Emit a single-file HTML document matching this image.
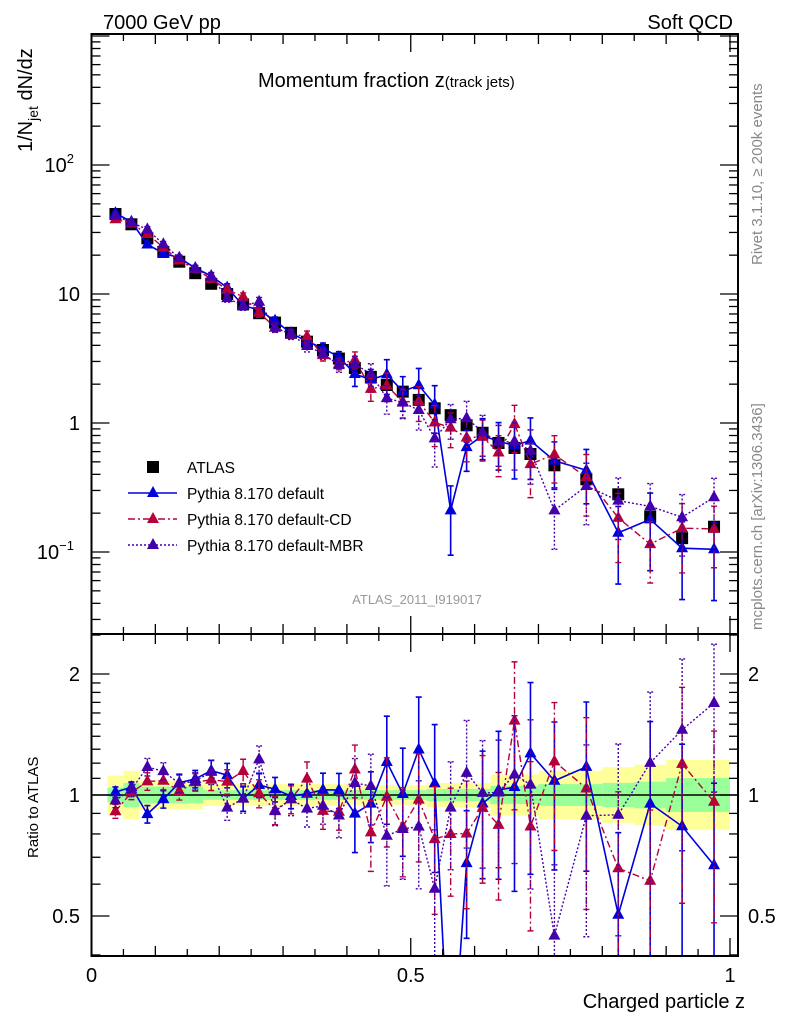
<!DOCTYPE html>
<html><head><meta charset="utf-8">
<style>
html,body{margin:0;padding:0;background:#fff;width:786px;height:1024px;overflow:hidden;}
svg{display:block;font-family:"Liberation Sans",sans-serif;}
</style></head>
<body>
<svg id="chart" width="786" height="1024" viewBox="0 0 786 1024" xmlns="http://www.w3.org/2000/svg">
<rect x="0" y="0" width="786" height="1024" fill="#fff"/>
<g id="ratioBands"></g>
<g id="marks"></g>
<g id="axes"></g>
<text x="103" y="29" font-size="20">7000 GeV pp</text>
<text x="733" y="29" font-size="20" text-anchor="end">Soft QCD</text>
<text x="258" y="87" font-size="20">Momentum fraction z<tspan font-size="15">(track jets)</tspan></text>
<text transform="translate(762,265) rotate(-90)" font-size="15" fill="#888">Rivet 3.1.10, ≥ 200k events</text>
<text transform="translate(762,630) rotate(-90)" font-size="15" fill="#888">mcplots.cern.ch [arXiv:1306.3436]</text>
<text x="417" y="604" font-size="13" fill="#999" text-anchor="middle">ATLAS_2011_I919017</text>
<text transform="translate(32,152) rotate(-90)" font-size="20">1/N<tspan font-size="14" dy="6">jet</tspan><tspan dy="-6"> dN/dz</tspan></text>
<text transform="translate(38,858) rotate(-90)" font-size="15">Ratio to ATLAS</text>
<text x="745" y="1008" font-size="20" text-anchor="end">Charged particle z</text>
<g id="legend"></g>
</svg>
<script>
const zCenters=[0.0375,0.0625,0.0875,0.1125,0.1375,0.1625,0.1875,0.2125,0.2375,0.2625,0.2875,0.3125,0.3375,0.3625,0.3875,0.4125,0.4375,0.4625,0.4875,0.5125,0.5375,0.5625,0.5875,0.6125,0.6375,0.6625,0.6875,0.725,0.775,0.825,0.875,0.925,0.975];
const atlasVals=[41.7,34.7,27,21.2,17.8,14.5,12,10,8.3,7.1,6.0,5.0,4.27,3.68,3.16,2.67,2.28,1.97,1.75,1.51,1.30,1.15,0.96,0.84,0.70,0.64,0.575,0.47,0.366,0.28,0.188,0.128,0.157];
const defaultVals=[42.4,36.3,24.2,20.7,19.1,15.9,13.8,11.2,8.13,7.52,6.20,4.97,4.30,3.79,3.25,2.40,2.17,2.38,1.76,1.96,1.39,0.21,0.65,0.80,0.72,0.67,0.73,0.51,0.43,0.141,0.179,0.107,0.105];
const cdVals=[38.0,35.2,29.2,23.0,18.2,15.6,13.1,10.8,9.52,7.17,5.50,4.88,4.69,3.36,2.87,3.09,1.84,1.95,1.46,1.47,1.01,0.92,0.77,0.78,0.59,0.98,0.48,0.57,0.38,0.184,0.115,0.153,0.151];
const mbrVals=[40.4,35.8,31.7,24.3,19.0,15.7,13.7,9.30,8.13,8.71,5.47,4.88,3.95,3.46,2.81,2.86,2.40,1.56,1.44,1.26,0.76,1.07,1.09,0.85,0.71,0.72,0.61,0.21,0.325,0.25,0.226,0.186,0.266];
const defaultErr=[0.03,0.03,0.05,0.05,0.05,0.05,0.06,0.07,0.07,0.07,0.07,0.07,0.08,0.1,0.1,0.2,0.2,0.3,0.3,0.35,0.4,0.55,0.35,0.35,0.4,0.45,0.5,0.4,0.45,0.6,0.6,0.6,0.6];
const cdErr=[0.04,0.04,0.05,0.05,0.05,0.05,0.06,0.07,0.07,0.08,0.08,0.08,0.1,0.1,0.1,0.15,0.2,0.25,0.25,0.3,0.35,0.3,0.35,0.35,0.35,0.4,0.45,0.4,0.5,0.55,0.5,0.55,0.5];
const mbrErr=[0.04,0.04,0.05,0.05,0.05,0.05,0.07,0.07,0.08,0.08,0.08,0.09,0.1,0.1,0.12,0.15,0.2,0.25,0.25,0.3,0.4,0.3,0.35,0.35,0.35,0.4,0.45,0.5,0.5,0.5,0.5,0.5,0.4];
const yellowHalf=[0.16,0.2,0.12,0.12,0.12,0.12,0.09,0.09,0.09,0.09,0.09,0.09,0.09,0.09,0.09,0.08,0.08,0.08,0.08,0.08,0.1,0.1,0.1,0.1,0.17,0.17,0.17,0.2,0.2,0.23,0.25,0.29,0.29];
const greenHalf=[0.06,0.1,0.07,0.07,0.07,0.07,0.04,0.04,0.04,0.04,0.04,0.04,0.04,0.04,0.04,0.04,0.04,0.04,0.04,0.04,0.05,0.05,0.05,0.05,0.075,0.075,0.075,0.09,0.09,0.1,0.11,0.14,0.14];
const binEdges=[0.025,0.05,0.075,0.1,0.125,0.15,0.175,0.2,0.225,0.25,0.275,0.3,0.325,0.35,0.375,0.4,0.425,0.45,0.475,0.5,0.525,0.55,0.575,0.6,0.625,0.65,0.675,0.7,0.75,0.8,0.85,0.9,0.95,1.0];
const mainYTicks=[{v:100,l:"10",e:"2"},{v:10,l:"10",e:""},{v:1,l:"1",e:""},{v:0.1,l:"10",e:"−1"}];
const ratioTicks=[{v:2,l:"2"},{v:1,l:"1"},{v:0.5,l:"0.5"}];
const xTicks=[{v:0,l:"0"},{v:0.5,l:"0.5"},{v:1,l:"1"}];

const NS="http://www.w3.org/2000/svg";
const L=91.5,R=738,X1=730,MT=34,MB=634,RT=634,RB=956;
function xs(z){return L+(X1-L)*z;}
function ym(v){return 423-Math.log10(v)*129;}
function yr(r){return 795-Math.log2(r)*121;}
function cl(y,a,b){return Math.min(Math.max(y,a),b);}
function el(tag,attrs,parent){const e=document.createElementNS(NS,tag);for(const k in attrs)e.setAttribute(k,attrs[k]);parent.appendChild(e);return e;}
const axes=document.getElementById('axes'),marks=document.getElementById('marks'),bands=document.getElementById('ratioBands'),legend=document.getElementById('legend');

for(let i=0;i<zCenters.length;i++){
  const x0=xs(binEdges[i]),x1=xs(binEdges[i+1]);
  const y=el('rect',{x:x0,y:yr(Math.pow(2,yellowHalf[i])),width:x1-x0,height:yr(Math.pow(2,-yellowHalf[i]))-yr(Math.pow(2,yellowHalf[i])),fill:'#ffff99'},bands);
  
  
}
for(let i=0;i<zCenters.length;i++){
  const x0=xs(binEdges[i]),x1=xs(binEdges[i+1]);
  const g=el('rect',{x:x0,y:yr(Math.pow(2,greenHalf[i])),width:x1-x0,height:yr(Math.pow(2,-greenHalf[i]))-yr(Math.pow(2,greenHalf[i])),fill:'#99ff99'},bands);
  
  
}
const one=el('line',{x1:L,x2:R,y1:yr(1),y2:yr(1),stroke:'#000','stroke-width':1.5},bands);



const defs=el('defs',{},document.getElementById('chart'));
const c1=el('clipPath',{id:'clipMain'},defs);el('rect',{x:L,y:MT,width:R-L,height:MB-MT},c1);
const c2=el('clipPath',{id:'clipRatio'},defs);el('rect',{x:L,y:RT,width:R-L,height:RB-RT},c2);

const series=[
 {name:'default',vals:defaultVals,err:defaultErr,color:'#0000dd',dash:'',w:1.6},
 {name:'default-cd',vals:cdVals,err:cdErr,color:'#b5003a',dash:'7,3,2,3',w:1.4},
 {name:'default-mbr',vals:mbrVals,err:mbrErr,color:'#4400aa',dash:'2,2',w:1.4}
];
function tri(x,y,c,parent,name){
  const t=el('polygon',{points:`${x},${y-7} ${x-6},${y+4} ${x+6},${y+4}`,fill:c},parent);
  
  
}
function drawSeries(s,panel){
  const g=el('g',{'clip-path':panel==='main'?'url(#clipMain)':'url(#clipRatio)'},marks);
  
  
  const top=panel==='main'?MT:RT,bot=panel==='main'?MB:RB;
  const yf=panel==='main'?(i,f)=>ym(s.vals[i]*f):(i,f)=>yr(s.vals[i]/atlasVals[i]*f);
  let pts=zCenters.map((z,i)=>xs(z)+','+yf(i,1)).join(' ');
  const pl=el('polyline',{points:pts,fill:'none',stroke:s.color,'stroke-width':s.w,'stroke-dasharray':s.dash},g);
  
  
  zCenters.forEach((z,i)=>{
    const x=xs(z),e=s.err[i];
    const hi=cl(yf(i,1+e),top,bot),lo=cl(yf(i,Math.max(1-e,0.05)),top,bot);
    const eb=el('path',{d:`M${x},${hi}V${lo}M${x-3},${hi}H${x+3}M${x-3},${lo}H${x+3}`,stroke:s.color,'stroke-width':s.w,'stroke-dasharray':s.dash,fill:'none'},g);
    
    
    const yc=yf(i,1);
    if(yc>top-8&&yc<bot+8) tri(x,yc,s.color,g,s.name+'-point');
  });
}
const ga=el('g',{'clip-path':'url(#clipMain)'},marks);


zCenters.forEach((z,i)=>{
  const r=el('rect',{x:xs(z)-6,y:ym(atlasVals[i])-6,width:12,height:12,fill:'#000'},ga);
  
  
});
series.forEach(s=>{drawSeries(s,'main');drawSeries(s,'ratio');});

[[MT,MB],[RT,RB]].forEach(([t,b])=>{
  const f=el('rect',{x:L,y:t,width:R-L,height:b-t,fill:'none',stroke:'#000','stroke-width':2},axes);
  
  
});
function tick(x1,y1,x2,y2){const t=el('line',{x1,y1,x2,y2,stroke:'#000','stroke-width':1.3},axes);}
for(let k=0;k<=20;k++){
  const z=k*0.05,x=xs(z),len=(k%10===0)?18:(k%2===0?10:7);
  tick(x,MT,x,MT+len);tick(x,MB,x,MB-len);tick(x,MB,x,MB+len);tick(x,RB,x,RB-len);
}
xTicks.forEach(t=>{const s=el('text',{x:xs(t.v),y:982,'font-size':20,'text-anchor':'middle'},axes);s.textContent=t.l;});
for(let d=-2;d<=3;d++){for(let m=1;m<=9;m++){const v=m*Math.pow(10,d),y=ym(v);if(y<MT||y>MB)continue;const len=m===1?18:9;tick(L,y,L+len,y);tick(R,y,R-len,y);}}
mainYTicks.forEach(t=>{const s=el('text',{x:t.e?74:80,y:ym(t.v)+7,'font-size':20,'text-anchor':'end'},axes);s.textContent=t.l;if(t.e){const sp=el('tspan',{'font-size':13,dy:-9},s);sp.textContent=t.e;}});
[0.4,0.5,0.6,0.7,0.8,0.9,1,1.1,1.2,1.3,1.4,1.5,1.6,1.7,1.8,1.9,2,2.5].forEach(v=>{const y=yr(v);if(y<RT||y>RB)return;const len=(v===0.5||v===1||v===2)?18:9;tick(L,y,L+len,y);tick(R,y,R-len,y);});
ratioTicks.forEach(t=>{
  const s=el('text',{x:80,y:yr(t.v)+7,'font-size':20,'text-anchor':'end'},axes);s.textContent=t.l;
  const s2=el('text',{x:748,y:yr(t.v)+7,'font-size':20},axes);s2.textContent=t.l;
});

const lr=el('rect',{x:147,y:461,width:12,height:12,fill:'#000'},legend);


const labels=['ATLAS','Pythia 8.170 default','Pythia 8.170 default-CD','Pythia 8.170 default-MBR'];
labels.forEach((lab,i)=>{
  const y=467+i*26;
  if(i>0){const s=series[i-1];
    const ln=el('line',{x1:128,x2:177,y1:y,y2:y,stroke:s.color,'stroke-width':s.w,'stroke-dasharray':s.dash},legend);
    
    
    tri(153,y,s.color,legend,'legend-marker-'+s.name);}
  const t=el('text',{x:187,y:y+6,'font-size':15.5},legend);t.textContent=lab;
  
  
});
</script>
</body></html>
